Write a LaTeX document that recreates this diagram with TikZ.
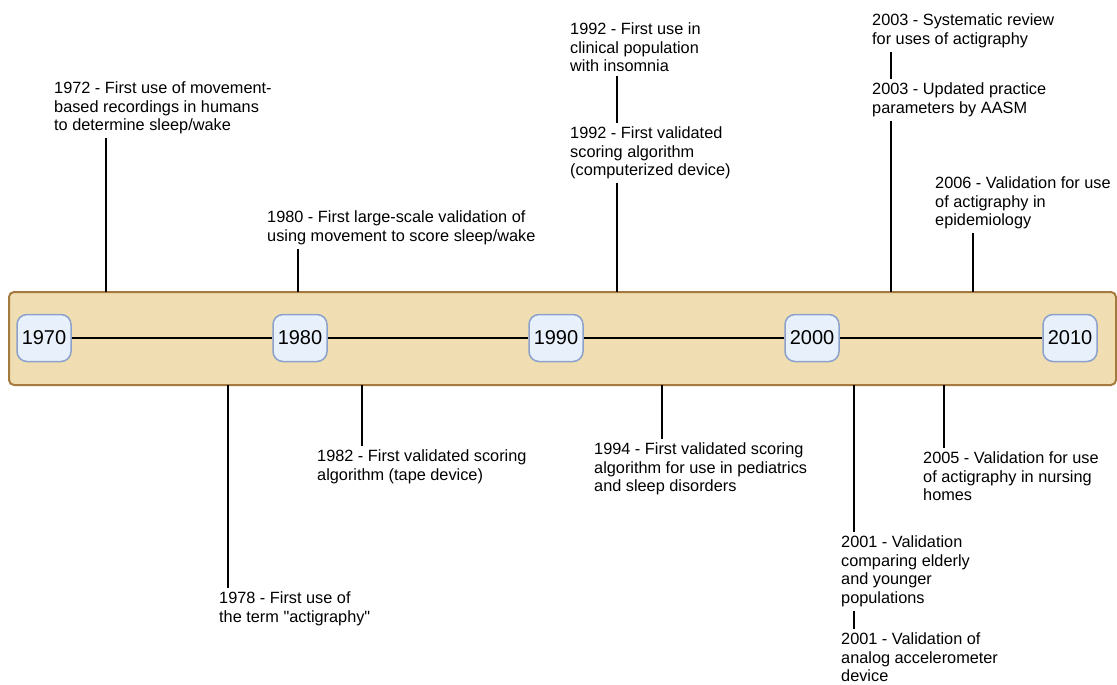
\documentclass[tikz,border=0pt]{standalone}
\usepackage{fontspec}
\setmainfont{Liberation Sans}
\definecolor{barfill}{RGB}{240,222,178}
\definecolor{barline}{RGB}{165,122,62}
\definecolor{yearfill}{RGB}{232,240,252}
\definecolor{yearline}{RGB}{140,162,204}
\tikzset{
  year/.style={draw=yearline,fill=yearfill,line width=1.5pt,rounded corners=10pt,
    minimum width=54pt,minimum height=47pt,inner sep=0pt,font=\fontsize{20}{22}\selectfont},
  event/.style={anchor=north west,align=left,inner xsep=0pt,inner ysep=4pt,
    font=\fontsize{16.3}{18.5}\selectfont},
  tick/.style={line width=1.6pt}
}
\begin{document}
\begin{tikzpicture}[x=1pt,y=-1pt]
    \useasboundingbox (0,0) rectangle (1117,685);

    % Draw bar
    \draw[barline,fill=barfill,line width=2pt,rounded corners=5pt] (9,292) rectangle (1116,385);

    % Draw years
    \node[year] (y1970) at (44,338) {1970};
    \node[year] (y1980) at (300,338) {1980};
    \node[year] (y1990) at (556,338) {1990};
    \node[year] (y2000) at (812,338) {2000};
    \node[year] (y2010) at (1070,338) {2010};
    \draw[tick] (y1970) -- (y1980) -- (y1990) -- (y2000) -- (y2010);

    % Events above
    \node[event] (e1972) at (54,77.9) {1972 - First use of movement-\\based recordings in humans\\to determine sleep/wake};
    \node[event] (e1980) at (267,206.9) {1980 - First large-scale validation of\\using movement to score sleep/wake};
    \node[event] (e1992a) at (570,18.9) {1992 - First use in\\clinical population\\with insomnia};
    \node[event] (e1992b) at (570,122.9) {1992 - First validated\\scoring algorithm\\(computerized device)};
    \node[event] (e2003a) at (872,9.9) {2003 - Systematic review\\for uses of actigraphy};
    \node[event] (e2003b) at (872,78.9) {2003 - Updated practice\\parameters by AASM};
    \node[event] (e2006) at (935,172.9) {2006 - Validation for use\\of actigraphy in\\epidemiology};

    % Events below
    \node[event] (e1978) at (219,587.9) {1978 - First use of\\the term \textquotedbl actigraphy\textquotedbl};
    \node[event] (e1982) at (317,445.9) {1982 - First validated scoring\\algorithm (tape device)};
    \node[event] (e1994) at (594,438.9) {1994 - First validated scoring\\algorithm for use in pediatrics\\and sleep disorders};
    \node[event] (e2001a) at (841,531.9) {2001 - Validation\\comparing elderly\\and younger\\populations};
    \node[event] (e2001b) at (841,628.9) {2001 - Validation of\\analog accelerometer\\device};
    \node[event] (e2005) at (923,447.9) {2005 - Validation for use\\of actigraphy in nursing\\homes};

    % Tick points on the bar
    \coordinate (t1972) at (106,292);
    \coordinate (t1980) at (298,292);
    \coordinate (t1992) at (617,292);
    \coordinate (t2003) at (891,292);
    \coordinate (t2006) at (973,292);
    \coordinate (t1978) at (228,385);
    \coordinate (t1982) at (362,385);
    \coordinate (t1994) at (662,385);
    \coordinate (t2001) at (854,385);
    \coordinate (t2005) at (944,385);

    % Draw ticks
    \draw[tick] (t1972) -- (t1972 |- e1972.south);
    \draw[tick] (t1980) -- (t1980 |- e1980.south);
    \draw[tick] (t1992) -- (t1992 |- e1992b.south);
    \draw[tick] (t1992 |- e1992b.north) -- (t1992 |- e1992a.south);
    \draw[tick] (t2003) -- (t2003 |- e2003b.south);
    \draw[tick] (t2003 |- e2003b.north) -- (t2003 |- e2003a.south);
    \draw[tick] (t2006) -- (t2006 |- e2006.south);
    \draw[tick] (t1978) -- (t1978 |- e1978.north);
    \draw[tick] (t1982) -- (t1982 |- e1982.north);
    \draw[tick] (t1994) -- (t1994 |- e1994.north);
    \draw[tick] (t2001) -- (t2001 |- e2001a.north);
    \draw[tick] (t2001 |- e2001a.south) -- (t2001 |- e2001b.north);
    \draw[tick] (t2005) -- (t2005 |- e2005.north);
\end{tikzpicture}
\end{document}
